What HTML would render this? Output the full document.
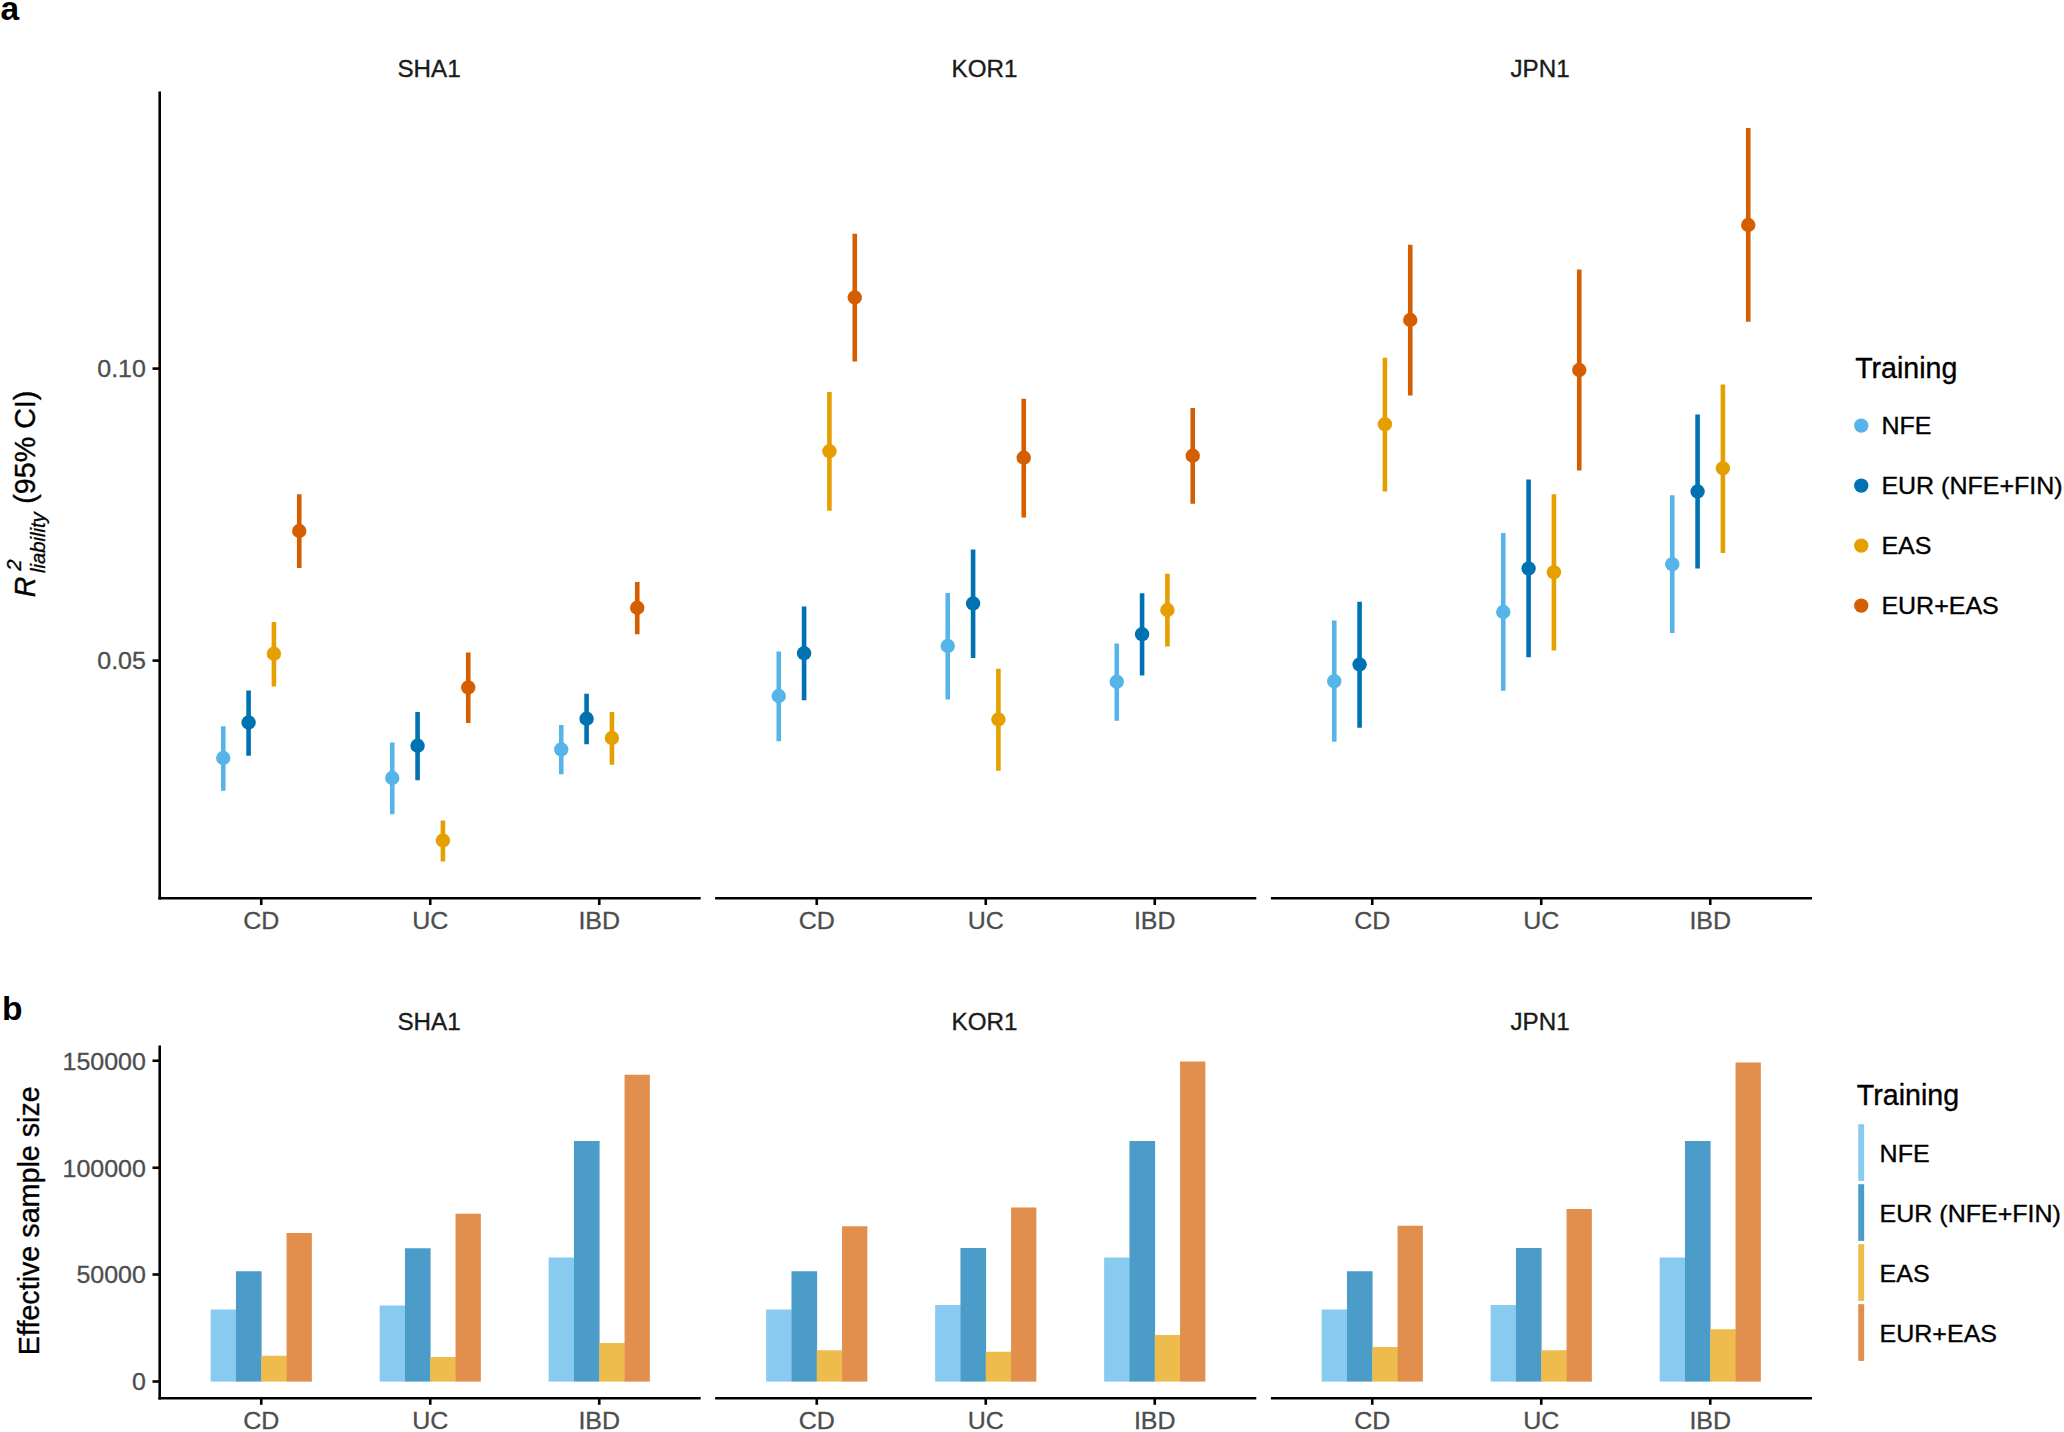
<!DOCTYPE html>
<html lang="en"><head><meta charset="utf-8"><title>Figure</title>
<style>html,body{margin:0;padding:0;background:#fff}svg{display:block}text{font-family:'Liberation Sans', Arial, Helvetica, sans-serif}.ax{font-size:24.5px;fill:#4d4d4d;stroke:#4d4d4d;stroke-width:.3px}.st{font-size:24.2px;fill:#1a1a1a;stroke:#1a1a1a;stroke-width:.35px}.lt{font-size:28.6px;fill:#000;stroke:#000;stroke-width:.35px}.ll{font-size:24.5px;fill:#000;stroke:#000;stroke-width:.35px}.yt{font-size:28.7px;fill:#000;stroke:#000;stroke-width:.35px}.tag{font-size:33.5px;font-weight:bold;fill:#000}</style></head><body>
<svg width="2064" height="1432" viewBox="0 0 2064 1432">
<rect width="2064" height="1432" fill="#fff"/>
<g id="panelA">
<text class="tag" x="0.4" y="20">a</text>
<text class="st" x="429.05" y="76.8" text-anchor="middle">SHA1</text>
<text class="st" x="984.55" y="76.8" text-anchor="middle">KOR1</text>
<text class="st" x="1540.05" y="76.8" text-anchor="middle">JPN1</text>
<g stroke="#000" stroke-width="2.60" fill="none" stroke-linecap="butt">
<path d="M159.7 91.5V899.55"/>
<path d="M158.40 898.25H700.70"/>
<path d="M715.10 898.25H1256.30"/>
<path d="M1270.90 898.25H1812.00"/>
<path d="M152.5 368.60H159.7"/>
<path d="M152.5 660.60H159.7"/>
<path d="M261.25 898.25V905"/>
<path d="M430.25 898.25V905"/>
<path d="M599.25 898.25V905"/>
<path d="M816.75 898.25V905"/>
<path d="M985.75 898.25V905"/>
<path d="M1154.75 898.25V905"/>
<path d="M1372.25 898.25V905"/>
<path d="M1541.25 898.25V905"/>
<path d="M1710.25 898.25V905"/>
</g>
<text class="ax" x="145.9" y="377.40" text-anchor="end" textLength="48.65" lengthAdjust="spacingAndGlyphs">0.10</text>
<text class="ax" x="145.9" y="669.40" text-anchor="end" textLength="48.65" lengthAdjust="spacingAndGlyphs">0.05</text>
<text class="ax" x="261.25" y="929.3" text-anchor="middle" textLength="36.10" lengthAdjust="spacingAndGlyphs">CD</text>
<text class="ax" x="430.25" y="929.3" text-anchor="middle" textLength="36.10" lengthAdjust="spacingAndGlyphs">UC</text>
<text class="ax" x="599.25" y="929.3" text-anchor="middle" textLength="41.68" lengthAdjust="spacingAndGlyphs">IBD</text>
<text class="ax" x="816.75" y="929.3" text-anchor="middle" textLength="36.10" lengthAdjust="spacingAndGlyphs">CD</text>
<text class="ax" x="985.75" y="929.3" text-anchor="middle" textLength="36.10" lengthAdjust="spacingAndGlyphs">UC</text>
<text class="ax" x="1154.75" y="929.3" text-anchor="middle" textLength="41.68" lengthAdjust="spacingAndGlyphs">IBD</text>
<text class="ax" x="1372.25" y="929.3" text-anchor="middle" textLength="36.10" lengthAdjust="spacingAndGlyphs">CD</text>
<text class="ax" x="1541.25" y="929.3" text-anchor="middle" textLength="36.10" lengthAdjust="spacingAndGlyphs">UC</text>
<text class="ax" x="1710.25" y="929.3" text-anchor="middle" textLength="41.68" lengthAdjust="spacingAndGlyphs">IBD</text>
<g transform="translate(35.4 596.3) rotate(-90)">
<text class="yt" x="-0.9" y="0" font-style="italic">R</text>
<text x="25.6" y="-14.1" font-size="20.3" font-style="italic" fill="#000" stroke="#000" stroke-width=".3">2</text>
<text x="23.2" y="9.8" font-size="20.3" font-style="italic" fill="#000" stroke="#000" stroke-width=".3">liability</text>
<text class="yt" x="92.5" y="0">(95% CI)</text>
</g>
<path d="M223.25 726.25V790.75" stroke="#56B4E9" stroke-width="4.60"/>
<circle cx="223.25" cy="758.00" r="7.20" fill="#56B4E9"/>
<path d="M248.59 690.50V755.75" stroke="#0072B2" stroke-width="4.60"/>
<circle cx="248.59" cy="722.50" r="7.20" fill="#0072B2"/>
<path d="M273.92 622.00V686.50" stroke="#E69F00" stroke-width="4.60"/>
<circle cx="273.92" cy="653.75" r="7.20" fill="#E69F00"/>
<path d="M299.25 494.25V568.00" stroke="#D55E00" stroke-width="4.60"/>
<circle cx="299.25" cy="531.00" r="7.20" fill="#D55E00"/>
<path d="M392.25 742.50V814.25" stroke="#56B4E9" stroke-width="4.60"/>
<circle cx="392.25" cy="778.00" r="7.20" fill="#56B4E9"/>
<path d="M417.58 712.00V780.25" stroke="#0072B2" stroke-width="4.60"/>
<circle cx="417.58" cy="745.75" r="7.20" fill="#0072B2"/>
<path d="M442.92 820.50V861.50" stroke="#E69F00" stroke-width="4.60"/>
<circle cx="442.92" cy="840.50" r="7.20" fill="#E69F00"/>
<path d="M468.25 652.50V723.00" stroke="#D55E00" stroke-width="4.60"/>
<circle cx="468.25" cy="687.50" r="7.20" fill="#D55E00"/>
<path d="M561.25 725.00V774.25" stroke="#56B4E9" stroke-width="4.60"/>
<circle cx="561.25" cy="749.50" r="7.20" fill="#56B4E9"/>
<path d="M586.59 693.75V744.25" stroke="#0072B2" stroke-width="4.60"/>
<circle cx="586.59" cy="718.75" r="7.20" fill="#0072B2"/>
<path d="M611.91 712.00V764.75" stroke="#E69F00" stroke-width="4.60"/>
<circle cx="611.91" cy="738.00" r="7.20" fill="#E69F00"/>
<path d="M637.25 582.00V634.25" stroke="#D55E00" stroke-width="4.60"/>
<circle cx="637.25" cy="607.75" r="7.20" fill="#D55E00"/>
<path d="M778.75 651.50V741.25" stroke="#56B4E9" stroke-width="4.60"/>
<circle cx="778.75" cy="696.00" r="7.20" fill="#56B4E9"/>
<path d="M804.09 606.50V700.25" stroke="#0072B2" stroke-width="4.60"/>
<circle cx="804.09" cy="653.25" r="7.20" fill="#0072B2"/>
<path d="M829.41 392.00V510.75" stroke="#E69F00" stroke-width="4.60"/>
<circle cx="829.41" cy="451.25" r="7.20" fill="#E69F00"/>
<path d="M854.75 233.75V361.50" stroke="#D55E00" stroke-width="4.60"/>
<circle cx="854.75" cy="297.50" r="7.20" fill="#D55E00"/>
<path d="M947.75 593.00V699.50" stroke="#56B4E9" stroke-width="4.60"/>
<circle cx="947.75" cy="646.00" r="7.20" fill="#56B4E9"/>
<path d="M973.09 549.50V658.00" stroke="#0072B2" stroke-width="4.60"/>
<circle cx="973.09" cy="603.50" r="7.20" fill="#0072B2"/>
<path d="M998.41 668.75V770.75" stroke="#E69F00" stroke-width="4.60"/>
<circle cx="998.41" cy="719.50" r="7.20" fill="#E69F00"/>
<path d="M1023.75 398.75V517.50" stroke="#D55E00" stroke-width="4.60"/>
<circle cx="1023.75" cy="457.75" r="7.20" fill="#D55E00"/>
<path d="M1116.76 643.50V720.75" stroke="#56B4E9" stroke-width="4.60"/>
<circle cx="1116.76" cy="681.75" r="7.20" fill="#56B4E9"/>
<path d="M1142.09 593.25V675.50" stroke="#0072B2" stroke-width="4.60"/>
<circle cx="1142.09" cy="634.25" r="7.20" fill="#0072B2"/>
<path d="M1167.41 573.75V646.50" stroke="#E69F00" stroke-width="4.60"/>
<circle cx="1167.41" cy="610.00" r="7.20" fill="#E69F00"/>
<path d="M1192.74 408.00V503.75" stroke="#D55E00" stroke-width="4.60"/>
<circle cx="1192.74" cy="455.75" r="7.20" fill="#D55E00"/>
<path d="M1334.26 620.50V741.75" stroke="#56B4E9" stroke-width="4.60"/>
<circle cx="1334.26" cy="681.25" r="7.20" fill="#56B4E9"/>
<path d="M1359.59 601.75V727.75" stroke="#0072B2" stroke-width="4.60"/>
<circle cx="1359.59" cy="664.50" r="7.20" fill="#0072B2"/>
<path d="M1384.91 357.75V491.50" stroke="#E69F00" stroke-width="4.60"/>
<circle cx="1384.91" cy="424.25" r="7.20" fill="#E69F00"/>
<path d="M1410.24 244.75V395.50" stroke="#D55E00" stroke-width="4.60"/>
<circle cx="1410.24" cy="320.00" r="7.20" fill="#D55E00"/>
<path d="M1503.26 533.00V690.75" stroke="#56B4E9" stroke-width="4.60"/>
<circle cx="1503.26" cy="612.00" r="7.20" fill="#56B4E9"/>
<path d="M1528.59 479.50V657.25" stroke="#0072B2" stroke-width="4.60"/>
<circle cx="1528.59" cy="568.50" r="7.20" fill="#0072B2"/>
<path d="M1553.91 494.25V650.50" stroke="#E69F00" stroke-width="4.60"/>
<circle cx="1553.91" cy="572.25" r="7.20" fill="#E69F00"/>
<path d="M1579.24 269.50V470.50" stroke="#D55E00" stroke-width="4.60"/>
<circle cx="1579.24" cy="370.00" r="7.20" fill="#D55E00"/>
<path d="M1672.26 495.25V633.00" stroke="#56B4E9" stroke-width="4.60"/>
<circle cx="1672.26" cy="564.25" r="7.20" fill="#56B4E9"/>
<path d="M1697.59 414.50V568.50" stroke="#0072B2" stroke-width="4.60"/>
<circle cx="1697.59" cy="491.50" r="7.20" fill="#0072B2"/>
<path d="M1722.91 384.50V553.00" stroke="#E69F00" stroke-width="4.60"/>
<circle cx="1722.91" cy="468.25" r="7.20" fill="#E69F00"/>
<path d="M1748.24 128.00V321.75" stroke="#D55E00" stroke-width="4.60"/>
<circle cx="1748.24" cy="225.00" r="7.20" fill="#D55E00"/>
<text class="lt" x="1855.2" y="378.1">Training</text>
<circle cx="1861.25" cy="425.60" r="7.20" fill="#56B4E9"/>
<text class="ll" x="1881.4" y="434.40" textLength="50.00" lengthAdjust="spacingAndGlyphs">NFE</text>
<circle cx="1861.25" cy="485.60" r="7.20" fill="#0072B2"/>
<text class="ll" x="1881.4" y="494.40" textLength="181.25" lengthAdjust="spacingAndGlyphs">EUR (NFE+FIN)</text>
<circle cx="1861.25" cy="545.60" r="7.20" fill="#E69F00"/>
<text class="ll" x="1881.4" y="554.40" textLength="50.03" lengthAdjust="spacingAndGlyphs">EAS</text>
<circle cx="1861.25" cy="605.60" r="7.20" fill="#D55E00"/>
<text class="ll" x="1881.4" y="614.40" textLength="117.40" lengthAdjust="spacingAndGlyphs">EUR+EAS</text>
</g>
<g id="panelB">
<text class="tag" x="1.9" y="1020">b</text>
<text class="st" x="429.05" y="1030.4" text-anchor="middle">SHA1</text>
<text class="st" x="984.55" y="1030.4" text-anchor="middle">KOR1</text>
<text class="st" x="1540.05" y="1030.4" text-anchor="middle">JPN1</text>
<rect x="210.65" y="1309.50" width="25.65" height="72.10" fill="#89CAF0"/>
<rect x="235.95" y="1271.25" width="25.65" height="110.35" fill="#4C9CC9"/>
<rect x="261.25" y="1355.75" width="25.65" height="25.85" fill="#EEBC4D"/>
<rect x="286.55" y="1233.00" width="25.30" height="148.60" fill="#E28E4D"/>
<rect x="379.65" y="1305.50" width="25.65" height="76.10" fill="#89CAF0"/>
<rect x="404.95" y="1248.25" width="25.65" height="133.35" fill="#4C9CC9"/>
<rect x="430.25" y="1357.00" width="25.65" height="24.60" fill="#EEBC4D"/>
<rect x="455.55" y="1213.75" width="25.30" height="167.85" fill="#E28E4D"/>
<rect x="548.65" y="1257.50" width="25.65" height="124.10" fill="#89CAF0"/>
<rect x="573.95" y="1141.00" width="25.65" height="240.60" fill="#4C9CC9"/>
<rect x="599.25" y="1343.00" width="25.65" height="38.60" fill="#EEBC4D"/>
<rect x="624.55" y="1074.75" width="25.30" height="306.85" fill="#E28E4D"/>
<rect x="766.15" y="1309.50" width="25.65" height="72.10" fill="#89CAF0"/>
<rect x="791.45" y="1271.25" width="25.65" height="110.35" fill="#4C9CC9"/>
<rect x="816.75" y="1350.25" width="25.65" height="31.35" fill="#EEBC4D"/>
<rect x="842.05" y="1226.25" width="25.30" height="155.35" fill="#E28E4D"/>
<rect x="935.15" y="1305.00" width="25.65" height="76.60" fill="#89CAF0"/>
<rect x="960.45" y="1248.00" width="25.65" height="133.60" fill="#4C9CC9"/>
<rect x="985.75" y="1351.75" width="25.65" height="29.85" fill="#EEBC4D"/>
<rect x="1011.05" y="1207.50" width="25.30" height="174.10" fill="#E28E4D"/>
<rect x="1104.15" y="1257.50" width="25.65" height="124.10" fill="#89CAF0"/>
<rect x="1129.45" y="1141.00" width="25.65" height="240.60" fill="#4C9CC9"/>
<rect x="1154.75" y="1335.00" width="25.65" height="46.60" fill="#EEBC4D"/>
<rect x="1180.05" y="1061.50" width="25.30" height="320.10" fill="#E28E4D"/>
<rect x="1321.65" y="1309.50" width="25.65" height="72.10" fill="#89CAF0"/>
<rect x="1346.95" y="1271.25" width="25.65" height="110.35" fill="#4C9CC9"/>
<rect x="1372.25" y="1347.00" width="25.65" height="34.60" fill="#EEBC4D"/>
<rect x="1397.55" y="1225.75" width="25.30" height="155.85" fill="#E28E4D"/>
<rect x="1490.65" y="1305.00" width="25.65" height="76.60" fill="#89CAF0"/>
<rect x="1515.95" y="1248.00" width="25.65" height="133.60" fill="#4C9CC9"/>
<rect x="1541.25" y="1350.25" width="25.65" height="31.35" fill="#EEBC4D"/>
<rect x="1566.55" y="1209.00" width="25.30" height="172.60" fill="#E28E4D"/>
<rect x="1659.65" y="1257.50" width="25.65" height="124.10" fill="#89CAF0"/>
<rect x="1684.95" y="1141.00" width="25.65" height="240.60" fill="#4C9CC9"/>
<rect x="1710.25" y="1329.25" width="25.65" height="52.35" fill="#EEBC4D"/>
<rect x="1735.55" y="1062.50" width="25.30" height="319.10" fill="#E28E4D"/>
<g stroke="#000" stroke-width="2.60" fill="none">
<path d="M159.7 1045.5V1399.55"/>
<path d="M158.40 1398.25H700.70"/>
<path d="M715.10 1398.25H1256.30"/>
<path d="M1270.90 1398.25H1812.00"/>
<path d="M152.5 1060.75H159.7"/>
<path d="M152.5 1167.75H159.7"/>
<path d="M152.5 1274.50H159.7"/>
<path d="M152.5 1381.50H159.7"/>
<path d="M261.25 1398.25V1404.8"/>
<path d="M430.25 1398.25V1404.8"/>
<path d="M599.25 1398.25V1404.8"/>
<path d="M816.75 1398.25V1404.8"/>
<path d="M985.75 1398.25V1404.8"/>
<path d="M1154.75 1398.25V1404.8"/>
<path d="M1372.25 1398.25V1404.8"/>
<path d="M1541.25 1398.25V1404.8"/>
<path d="M1710.25 1398.25V1404.8"/>
</g>
<text class="ax" x="145.9" y="1069.55" text-anchor="end" textLength="83.40" lengthAdjust="spacingAndGlyphs">150000</text>
<text class="ax" x="145.9" y="1176.55" text-anchor="end" textLength="83.40" lengthAdjust="spacingAndGlyphs">100000</text>
<text class="ax" x="145.9" y="1283.30" text-anchor="end" textLength="69.50" lengthAdjust="spacingAndGlyphs">50000</text>
<text class="ax" x="145.9" y="1390.30" text-anchor="end" textLength="13.90" lengthAdjust="spacingAndGlyphs">0</text>
<text class="ax" x="261.25" y="1429.2" text-anchor="middle" textLength="36.10" lengthAdjust="spacingAndGlyphs">CD</text>
<text class="ax" x="430.25" y="1429.2" text-anchor="middle" textLength="36.10" lengthAdjust="spacingAndGlyphs">UC</text>
<text class="ax" x="599.25" y="1429.2" text-anchor="middle" textLength="41.68" lengthAdjust="spacingAndGlyphs">IBD</text>
<text class="ax" x="816.75" y="1429.2" text-anchor="middle" textLength="36.10" lengthAdjust="spacingAndGlyphs">CD</text>
<text class="ax" x="985.75" y="1429.2" text-anchor="middle" textLength="36.10" lengthAdjust="spacingAndGlyphs">UC</text>
<text class="ax" x="1154.75" y="1429.2" text-anchor="middle" textLength="41.68" lengthAdjust="spacingAndGlyphs">IBD</text>
<text class="ax" x="1372.25" y="1429.2" text-anchor="middle" textLength="36.10" lengthAdjust="spacingAndGlyphs">CD</text>
<text class="ax" x="1541.25" y="1429.2" text-anchor="middle" textLength="36.10" lengthAdjust="spacingAndGlyphs">UC</text>
<text class="ax" x="1710.25" y="1429.2" text-anchor="middle" textLength="41.68" lengthAdjust="spacingAndGlyphs">IBD</text>
<text class="yt" transform="translate(38.7 1220.7) rotate(-90)" text-anchor="middle">Effective sample size</text>
<text class="lt" x="1856.8" y="1104.8">Training</text>
<rect x="1858.25" y="1124.20" width="5.9" height="56.7" fill="#89CAF0"/>
<text class="ll" x="1879.6" y="1161.50" textLength="50.00" lengthAdjust="spacingAndGlyphs">NFE</text>
<rect x="1858.25" y="1184.20" width="5.9" height="56.7" fill="#4C9CC9"/>
<text class="ll" x="1879.6" y="1221.50" textLength="181.25" lengthAdjust="spacingAndGlyphs">EUR (NFE+FIN)</text>
<rect x="1858.25" y="1244.20" width="5.9" height="56.7" fill="#EEBC4D"/>
<text class="ll" x="1879.6" y="1281.50" textLength="50.03" lengthAdjust="spacingAndGlyphs">EAS</text>
<rect x="1858.25" y="1304.20" width="5.9" height="56.7" fill="#E28E4D"/>
<text class="ll" x="1879.6" y="1341.50" textLength="117.40" lengthAdjust="spacingAndGlyphs">EUR+EAS</text>
</g>
</svg></body></html>
